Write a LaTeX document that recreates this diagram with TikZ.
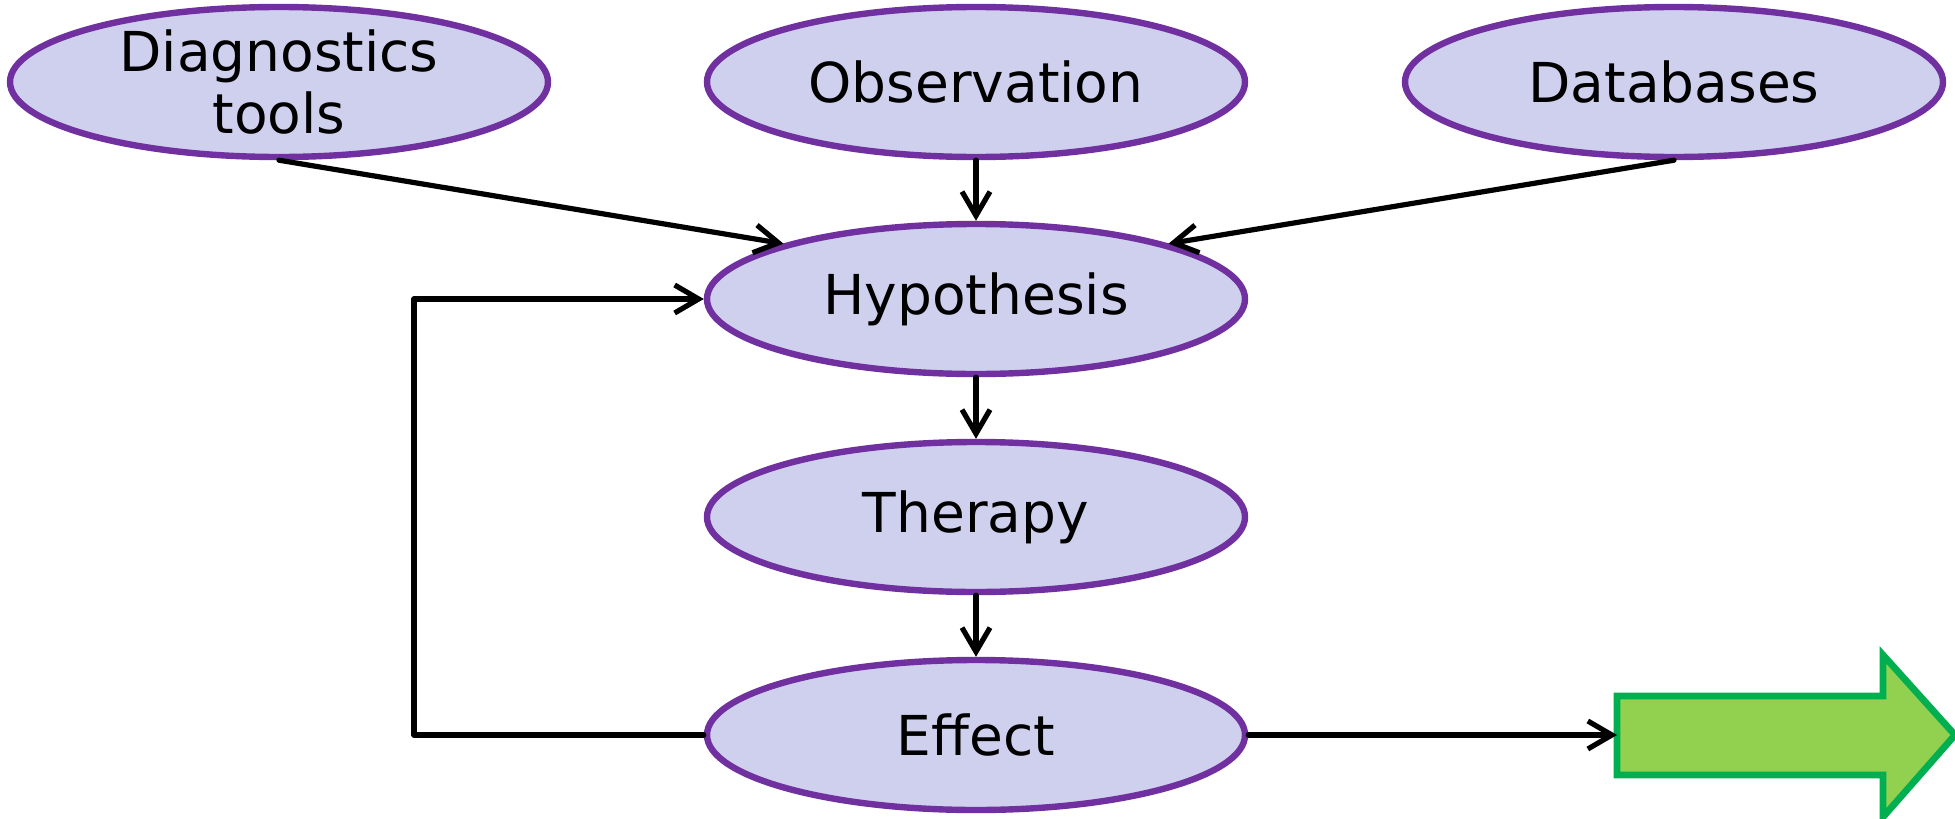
\documentclass[tikz,border=0pt]{standalone}
\usepackage{fontspec}
\setmainfont{DejaVu Sans}
\usetikzlibrary{arrows.meta,shapes.geometric}
\definecolor{nodefill}{HTML}{CFCFEE}
\definecolor{nodeline}{HTML}{7030A0}
\definecolor{outfill}{HTML}{92D050}
\definecolor{outline}{HTML}{00B050}
\tikzset{
  bubble/.style={ellipse, draw=nodeline, fill=nodefill, line width=3.2pt,
    minimum width=269pt, minimum height=75pt, inner sep=0pt, align=center,
    font=\fontsize{27.5}{31}\selectfont},
  link/.style={line width=2.6pt, line join=round, line cap=round,
    -{Straight Barb[length=12pt,width=14pt,line width=2.6pt]}}
}
\begin{document}
\begin{tikzpicture}[x=0.5pt,y=-0.5pt]
\useasboundingbox (0,0) rectangle (1955,819);
% inputs
\node[bubble] (diag) at (279,82) {Diagnostics\\tools};
\node[bubble] (obs)  at (976,82) {Observation};
\node[bubble] (db)   at (1674,82) {Databases};
% main chain
\node[bubble] (hyp)  at (976,299) {Hypothesis};
\node[bubble] (ther) at (976,517) {Therapy};
\node[bubble] (eff)  at (976,735) {Effect};
% outcome arrow
\coordinate (outin) at (1617,735);
\draw[draw=outline, fill=outfill, line width=3.4pt, line join=miter]
  (1617,696) -- (1883,696) -- (1883,655) -- (1955,735) -- (1883,817)
  -- (1883,775) -- (1617,775) -- cycle;
% connectors
\draw[link] (diag.south) -- (hyp.north west);
\draw[link] (db.south) -- (hyp.north east);
\draw[link] (obs.south) -- (hyp.north);
\draw[link] (hyp.south) -- (ther.north);
\draw[link] (ther.south) -- (eff.north);
\draw[link] (eff.east) -- (outin);
\coordinate (fbl) at (414,735);
\coordinate (fbu) at (414,299);
\draw[link] (eff.west) -- (fbl) -- (fbu) -- (hyp.west);
\end{tikzpicture}
\end{document}
